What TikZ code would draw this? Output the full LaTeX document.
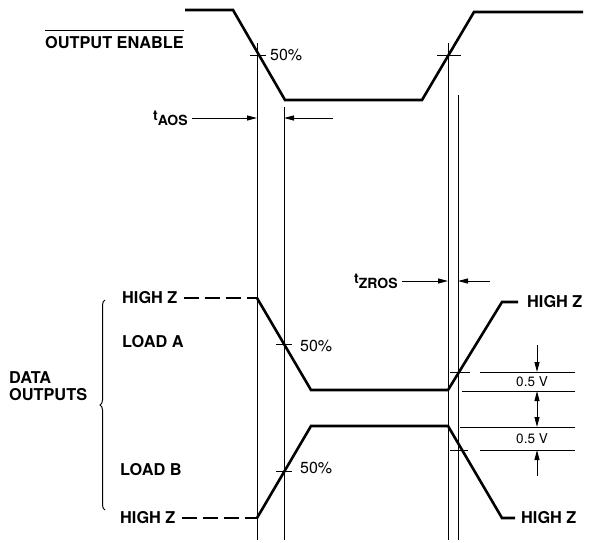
\documentclass[tikz,border=0pt]{standalone}
\usepackage{fontspec}
\setmainfont{TeX Gyre Heros}
\usetikzlibrary{arrows.meta,decorations.pathreplacing}

\begin{document}
\begin{tikzpicture}[x=1pt, y=-1pt,
    wave/.style={line width=2.6pt, line join=miter},
    guide/.style={line width=1pt},
    dim/.style={line width=1pt, -{Triangle[length=10pt, width=5pt]}},
    lbl/.style={font=\fontsize{16.3}{18}\selectfont\bfseries, inner sep=0pt, anchor=west},
    tlbl/.style={font=\fontsize{14}{16}\selectfont\bfseries, inner sep=0pt, anchor=west},
    pct/.style={font=\fontsize{16}{18}\selectfont, inner sep=0pt, anchor=west},
    volt/.style={font=\fontsize{13.5}{15}\selectfont, inner sep=0pt}]

    \useasboundingbox (0,0) rectangle (592,542);

    % Output enable waveform
    \node[lbl] (oe) at (45,43) {OUTPUT ENABLE};
    \draw[guide] ([yshift=6pt]oe.north west) -- ([yshift=6pt]oe.north east);
    \draw[wave] (185,10) -- (233,10) -- (285,100) -- (422,100) -- (474,12) -- (583,12);

    % 50% marks on the output enable edges
    \draw[guide] (250,55) -- (266,55);
    \node[pct] (p1) at (270,55) {50\%};
    \draw[guide] (437,55) -- (461,55);

    % Vertical reference lines
    \draw[guide] (257,43) -- (257,540);
    \draw[guide] (284,107) -- (284,540);
    \draw[guide] (448,43) -- (448,540);
    \draw[guide] (458,95) -- (458,540);

    % Timing labels
    \node[tlbl] (taos) at (153,118) {\raisebox{5pt}{t}AOS};
    \coordinate (aosl) at (257,118);
    \coordinate (aosr) at (284,118);
    \coordinate (aosq) at (333,118);
    \draw[dim] ([xshift=4pt]taos.east) -- (aosl);
    \draw[dim] (aosq) -- (aosr);

    \node[tlbl] (tzros) at (354,281) {\raisebox{5pt}{t}ZROS};
    \coordinate (zrosl) at (448,281);
    \coordinate (zrosr) at (458,281);
    \coordinate (zrosq) at (490,281);
    \draw[dim] ([xshift=4pt]tzros.east) -- (zrosl);
    \draw[dim] (zrosq) -- (zrosr);

    % Data outputs, load A
    \node[lbl] (hza) at (122,298) {HIGH Z};
    \draw[wave, dash pattern=on 15pt off 6pt] ([xshift=6pt]hza.east) -- (257,298);
    \draw[wave] (257,298) -- (311,390) -- (448,390) -- (502,302) -- (518,302);
    \node[lbl] (hzar) at (527,302) {HIGH Z};
    \node[lbl] (loada) at (122,342) {LOAD A};
    \draw[guide] (276,344) -- (292,344);
    \node[pct] (p2) at (300,346) {50\%};

    % Data outputs, load B
    \node[lbl] (hzb) at (120,518) {HIGH Z};
    \draw[wave, dash pattern=on 15pt off 6pt] ([xshift=6pt]hzb.east) -- (257,518);
    \draw[wave] (257,518) -- (311,426) -- (448,426) -- (502,518) -- (515,518);
    \node[lbl] (hzbr) at (521,518) {HIGH Z};
    \node[lbl] (loadb) at (120,470) {LOAD B};
    \draw[guide] (276,471) -- (292,471);
    \node[pct] (p3) at (300,468) {50\%};

    % Brace and group label
    \draw[guide, decorate, decoration={brace, amplitude=5pt}] (105,510) -- (105,300);
    \node[lbl, align=left] (data) at (9,386) {DATA\\[-1pt]OUTPUTS};

    % 0.5 V levels
    \draw[guide] (450,372) -- (470,372) (480,372) -- (575,372);
    \draw[guide] (462,391) -- (575,391);
    \draw[guide] (460,427) -- (575,427);
    \draw[guide] (450,450) -- (468,450) (480,450) -- (575,450);
    \node[volt] (va) at (532,382) {0.5 V};
    \node[volt] (vb) at (532,439) {0.5 V};

    \coordinate (m1) at (537,345);
    \coordinate (m2) at (537,372);
    \coordinate (m3) at (537,391);
    \coordinate (m4) at (537,427);
    \coordinate (m5) at (537,450);
    \coordinate (m6) at (537,476);
    \draw[dim] (m1) -- (m2);
    \draw[dim, {Triangle[length=10pt, width=5pt]}-{Triangle[length=10pt, width=5pt]}] (m3) -- (m4);
    \draw[dim] (m6) -- (m5);

\end{tikzpicture}
\end{document}
